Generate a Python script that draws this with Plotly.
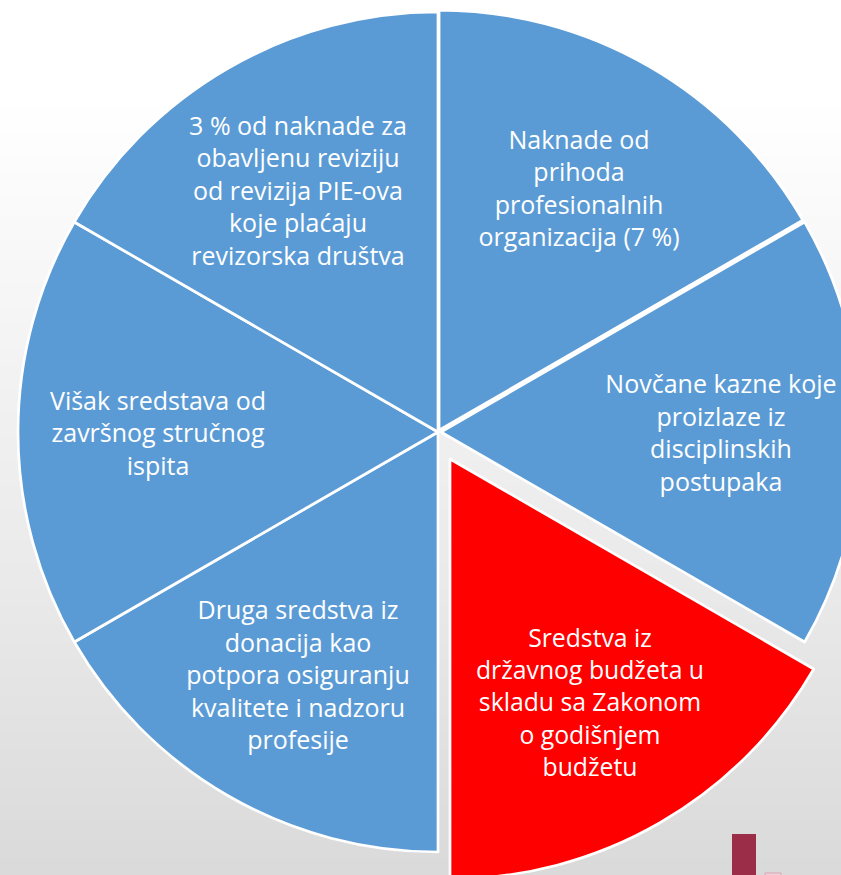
import numpy as np
import plotly.graph_objects as go

# ---- data ----
categories = [
    "Naknade od<br>prihoda<br>profesionalnih<br>organizacija (7 %)",
    "Novčane kazne koje<br>proizlaze iz<br>disciplinskih<br>postupaka",
    "Sredstva iz<br>državnog budžeta u<br>skladu sa Zakonom<br>o godišnjem<br>budžetu",
    "Druga sredstva iz<br>donacija kao<br>potpora osiguranju<br>kvalitete i nadzoru<br>profesije",
    "Višak sredstava od<br>završnog stručnog<br>ispita",
    "3 % od naknade za<br>obavljenu reviziju<br>od revizija PIE-ova<br>koje plaćaju<br>revizorska društva",
]
shares = [1, 1, 1, 1, 1, 1]
highlight = [False, False, True, False, False, False]
pulls = [0.005, 0.007, 0.0, 0.0, 0.0, 0.0]

# ---- styling / layout ----
BLUE = "#5b9bd5"
RED = "#ff0000"
CLEAR = "rgba(0,0,0,0)"
W, H = 880, 900          # figure larger than the window so the pie is cropped like the slide
OFF = 0                  # page body margin (reset below)
CX, CY, R = 438, 432, 420
EXPL = (12, 27)          # exploded slice offset (px)


def xp(px):
    return (px - OFF) / W


def yp(py):
    return 1 - (py - OFF) / H


def domain(cx, cy, half):
    return dict(x=[xp(cx - half), xp(cx + half)], y=[yp(cy + half), yp(cy - half)])


maxpull = max(pulls)
font = dict(family="'Open Sans', sans-serif", size=25, color="white")

base = go.Pie(
    labels=categories,
    values=shares,
    text=["" if h else c for c, h in zip(categories, highlight)],
    textinfo="text",
    textposition="inside",
    insidetextorientation="horizontal",
    textfont=font,
    sort=False,
    direction="clockwise",
    rotation=0,
    pull=pulls,
    marker=dict(
        colors=[CLEAR if h else BLUE for h in highlight],
        line=dict(color=[CLEAR if h else "white" for h in highlight],
                  width=[0 if h else 2.7 for h in highlight]),
    ),
    domain=domain(CX, CY, R * (1 + maxpull)),
    hoverinfo="skip",
    showlegend=False,
)

exploded = go.Pie(
    labels=categories,
    values=shares,
    text=[c if h else "" for c, h in zip(categories, highlight)],
    textinfo="text",
    textposition="inside",
    insidetextorientation="horizontal",
    textfont=font,
    sort=False,
    direction="clockwise",
    rotation=0,
    marker=dict(
        colors=[RED if h else CLEAR for h in highlight],
        line=dict(color=["white" if h else CLEAR for h in highlight],
                  width=[2.7 if h else 0 for h in highlight]),
    ),
    domain=domain(CX + EXPL[0], CY + EXPL[1], R),
    hoverinfo="skip",
    showlegend=False,
)

fig = go.Figure([base, exploded])

# slide background: vertical white -> light grey gradient
shapes = []
stops_y = [0, 100, 400, 600, 900]
stops_v = [255, 255, 241, 233, 216]
step = 6
for y0 in range(0, H, step):
    v = int(round(np.interp(y0 + step / 2, stops_y, stops_v)))
    shapes.append(dict(type="rect", xref="paper", yref="paper", layer="below",
                       x0=0, x1=1, y0=yp(y0 + step + OFF), y1=yp(y0 + OFF),
                       fillcolor=f"rgb({v},{v},{v})", line=dict(width=0)))
# logo fragment at the bottom right of the slide
shapes.append(dict(type="rect", xref="paper", yref="paper", layer="above",
                   x0=xp(732), x1=xp(756), y0=yp(H), y1=yp(834),
                   fillcolor="#9b2d48", line=dict(width=0)))
shapes.append(dict(type="rect", xref="paper", yref="paper", layer="above",
                   x0=xp(765), x1=xp(781), y0=yp(H), y1=yp(873),
                   fillcolor="#efd3da", line=dict(color="#d9a3b2", width=1)))

fig.update_layout(
    width=W, height=H,
    margin=dict(l=0, r=0, t=0, b=0),
    paper_bgcolor="#ffffff",
    shapes=shapes,
)

fig.write_html(
    "out.html",
    config={"displayModeBar": False},
    post_script="document.body.style.margin='0';"
                "document.documentElement.style.overflow='hidden';"
                "document.body.style.overflow='hidden';",
)
